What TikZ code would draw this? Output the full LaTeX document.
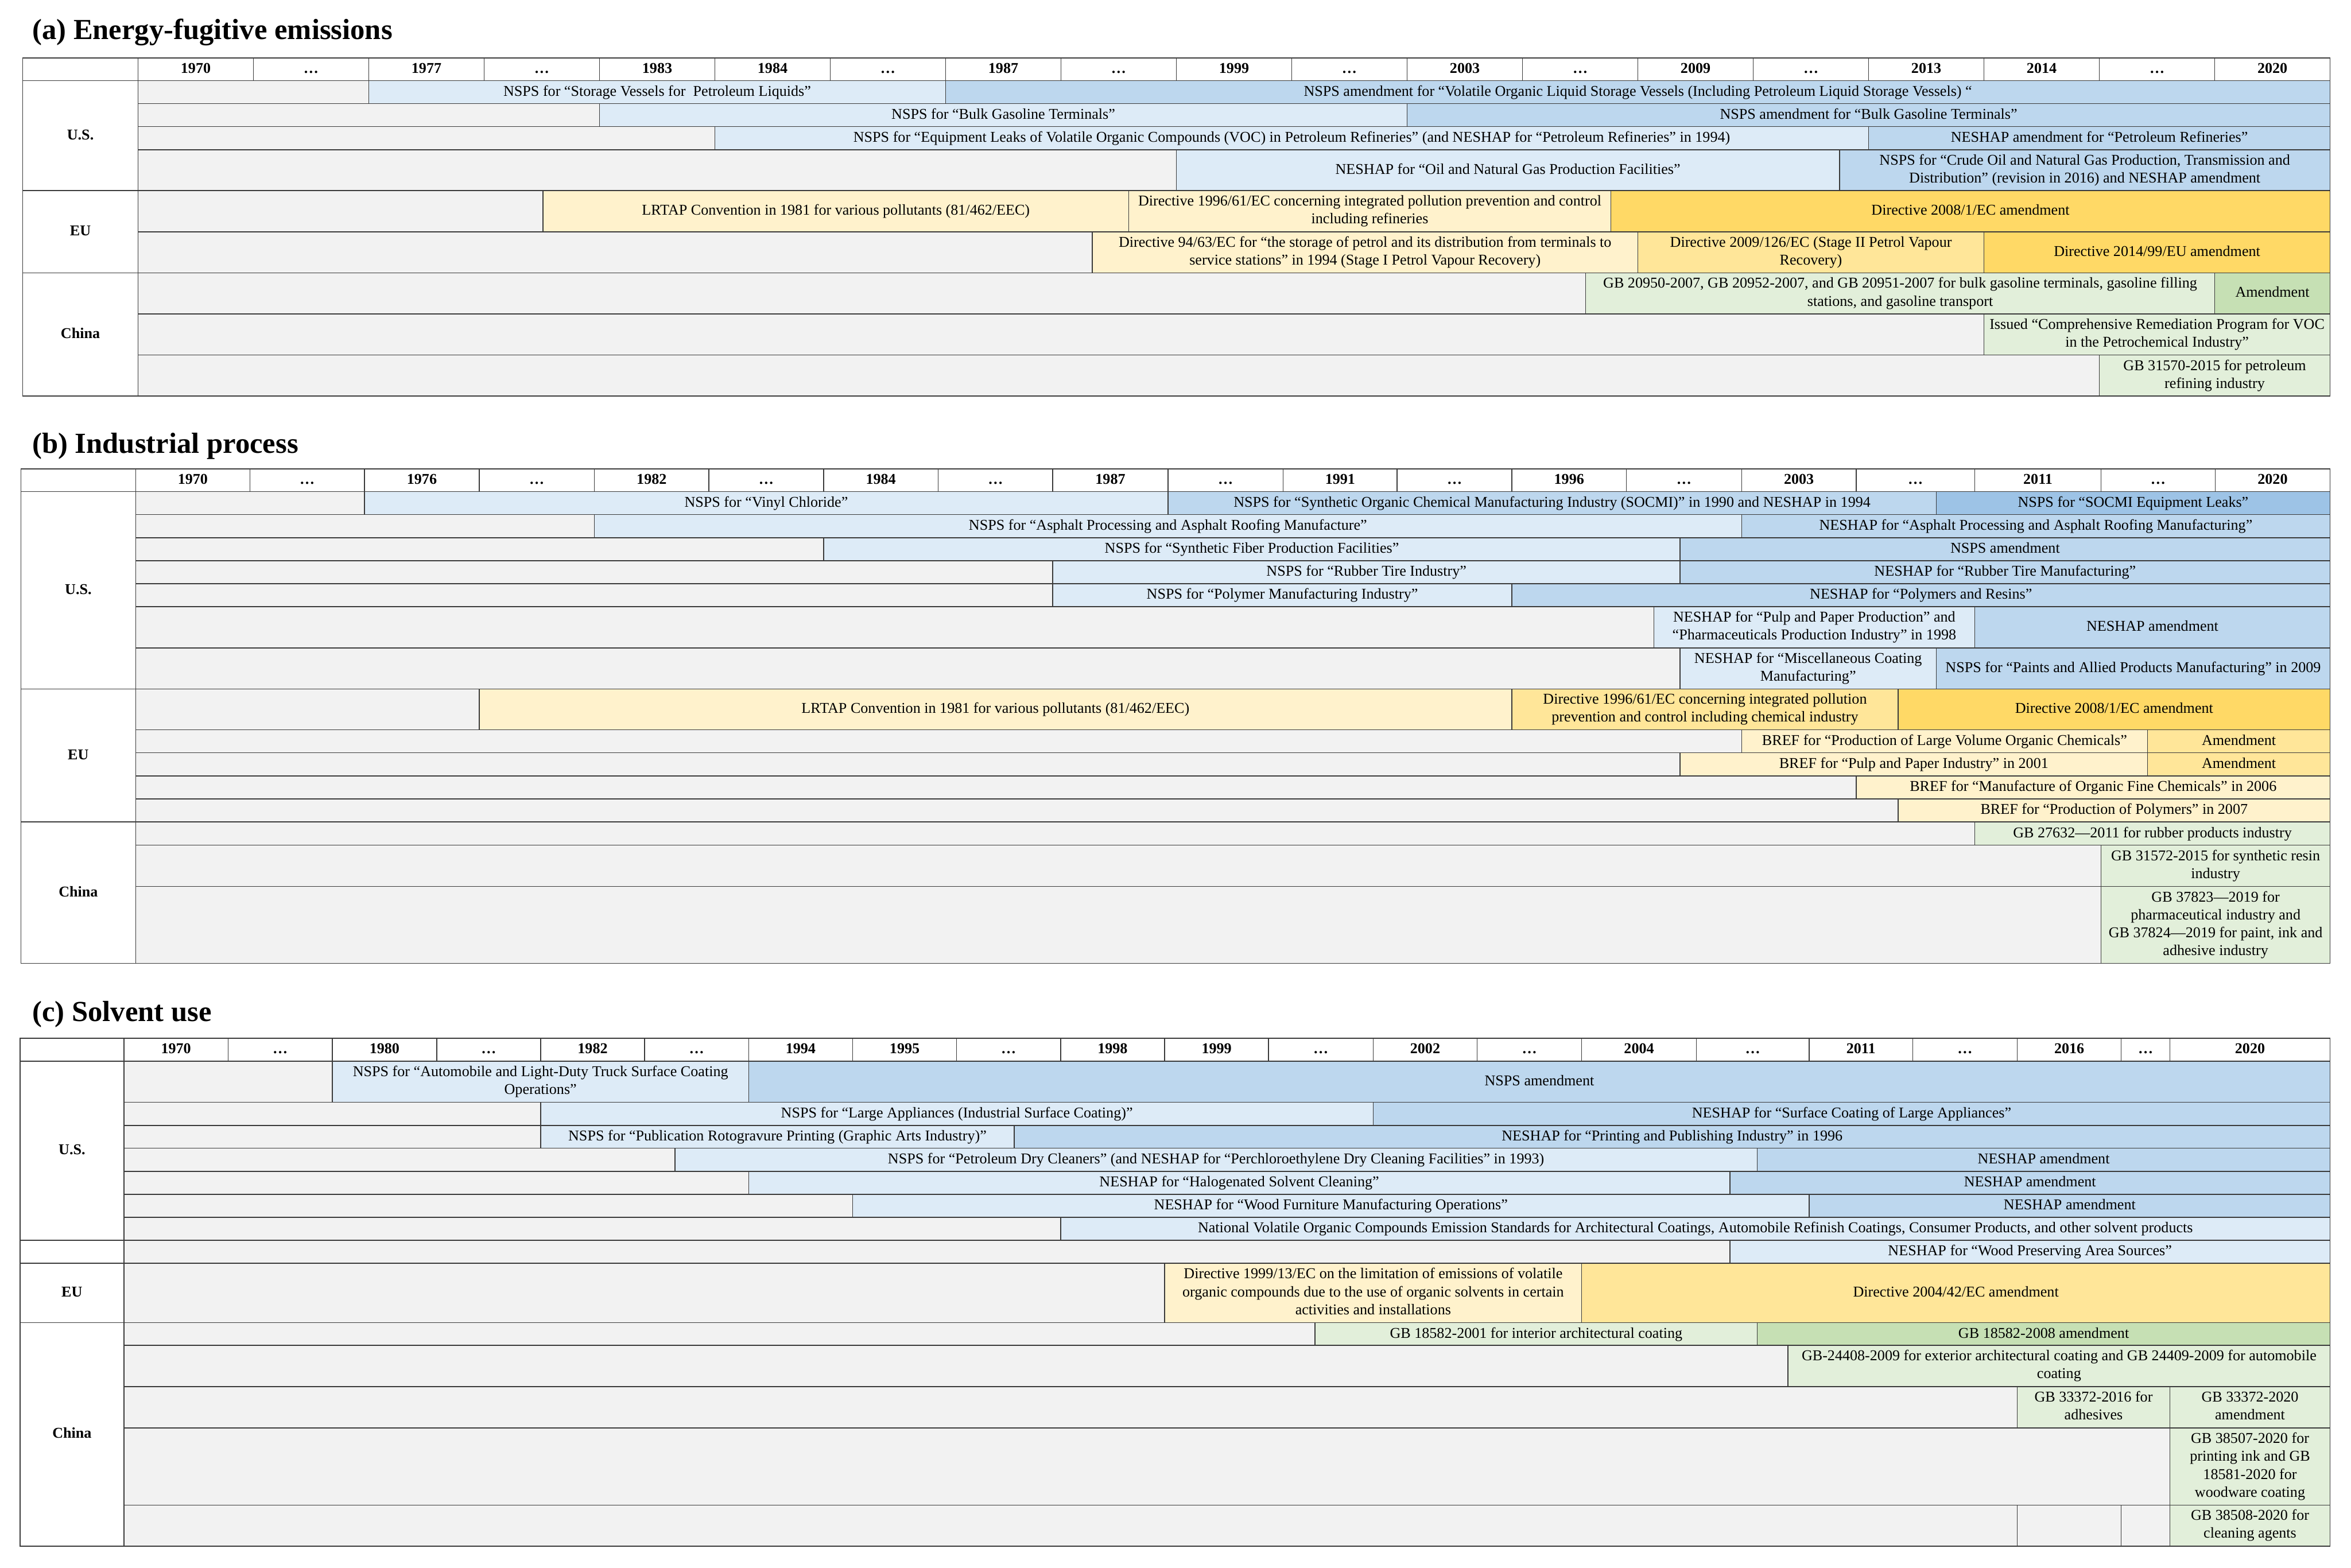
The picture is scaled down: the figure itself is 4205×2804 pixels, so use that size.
\documentclass[tikz,border=0pt]{standalone}
\usepackage{fontspec}
\setmainfont{Liberation Serif}
\definecolor{gry}{HTML}{F2F2F2}
\definecolor{lblue}{HTML}{DDEBF7}
\definecolor{mblue}{HTML}{BDD7EE}
\definecolor{dblue}{HTML}{9DC3E6}
\definecolor{lyel}{HTML}{FFF2CC}
\definecolor{myel}{HTML}{FFE699}
\definecolor{gold}{HTML}{FFD966}
\definecolor{lgrn}{HTML}{E2EFDA}
\definecolor{mgrn}{HTML}{C6E0B4}
\definecolor{linec}{HTML}{3A3A3A}
\newcommand\mystrut{\rule[-1.5pt]{0pt}{6.5pt}}
\tikzset{
  cellline/.style={draw=linec,line width=0.4pt},
  txt/.style={align=center,inner sep=0pt,font=\fontsize{6.7}{8}\selectfont,
    execute at begin node=\mystrut,execute at end node=\mystrut},
  hdrtxt/.style={txt,font=\fontsize{6.7}{8}\selectfont\bfseries},
  ttl/.style={anchor=base west,inner sep=0pt,font=\fontsize{13}{15}\selectfont\bfseries}
}
\newcounter{cellno}
\newcommand\cellbox[6]{\stepcounter{cellno}%
  \filldraw[cellline,fill=#5] (#1,#3) rectangle (#2,#4);
  \node[txt] (cell\arabic{cellno}) at ({(#1+#2)/2},{(#3+#4)/2}) {#6};}
\newcommand\hdrbox[5]{\stepcounter{cellno}%
  \filldraw[cellline,fill=white] (#1,#3) rectangle (#2,#4);
  \node[hdrtxt] (cell\arabic{cellno}) at ({(#1+#2)/2},{(#3+#4)/2}) {#5};}
\begin{document}
\begin{tikzpicture}[x=0.25pt,y=-0.25pt]
\useasboundingbox[fill=white] (0,0) rectangle (4205,2804);

%%%%%%%%%%%%%%%% (a)
\node[ttl] (ta) at (57,70.7) {(a) Energy-fugitive emissions};
\hdrbox{40.7}{246.9}{103.7}{144.3}{}
\foreach \a/\b/\t in {246.9/453.25/1970,453.25/659.6/…,659.6/865.95/1977,865.95/1072.3/…,1072.3/1278.65/1983,1278.65/1485/1984,1485/1691.35/…,1691.35/1897.7/1987,1897.7/2104.05/…,2104.05/2310.4/1999,2310.4/2516.75/…,2516.75/2723.1/2003,2723.1/2929.45/…,2929.45/3135.8/2009,3135.8/3342.15/…,3342.15/3548.5/2013,3548.5/3754.85/2014,3754.85/3961.2/…,3961.2/4167.6/2020}
  {\hdrbox{\a}{\b}{103.7}{144.3}{\t}}
\hdrbox{40.7}{246.9}{144.3}{341}{U.S.}
\hdrbox{40.7}{246.9}{341}{488}{EU}
\hdrbox{40.7}{246.9}{488}{708.5}{China}
% US
\cellbox{246.9}{659.6}{144.3}{185.3}{gry}{}
\cellbox{659.6}{1691.35}{144.3}{185.3}{lblue}{NSPS for “Storage Vessels for~ Petroleum Liquids”}
\cellbox{1691.35}{4167.6}{144.3}{185.3}{mblue}{NSPS amendment for “Volatile Organic Liquid Storage Vessels (Including Petroleum Liquid Storage Vessels)~“}
\cellbox{246.9}{1072.3}{185.3}{226.3}{gry}{}
\cellbox{1072.3}{2516.75}{185.3}{226.3}{lblue}{NSPS for “Bulk Gasoline Terminals”}
\cellbox{2516.75}{4167.6}{185.3}{226.3}{mblue}{NSPS amendment for “Bulk Gasoline Terminals”}
\cellbox{246.9}{1278.65}{226.3}{267.8}{gry}{}
\cellbox{1278.65}{3342.15}{226.3}{267.8}{lblue}{NSPS for “Equipment Leaks of Volatile Organic Compounds (VOC) in Petroleum Refineries” (and NESHAP for “Petroleum Refineries” in 1994)}
\cellbox{3342.15}{4167.6}{226.3}{267.8}{mblue}{NESHAP amendment for “Petroleum Refineries”}
\cellbox{246.9}{2104.05}{267.8}{341}{gry}{}
\cellbox{2104.05}{3290}{267.8}{341}{lblue}{NESHAP for “Oil and Natural Gas Production Facilities”}
\cellbox{3290}{4167.6}{267.8}{341}{mblue}{NSPS for “Crude Oil and Natural Gas Production, Transmission and\\Distribution” (revision in 2016) and NESHAP amendment}
% EU
\cellbox{246.9}{971}{341}{414.5}{gry}{}
\cellbox{971}{2019}{341}{414.5}{lyel}{LRTAP Convention in 1981 for various pollutants (81/462/EEC)}
\cellbox{2019}{2881}{341}{414.5}{lyel}{Directive 1996/61/EC concerning integrated pollution prevention and control\\including refineries}
\cellbox{2881}{4167.6}{341}{414.5}{gold}{Directive 2008/1/EC amendment}
\cellbox{246.9}{1953.5}{414.5}{488}{gry}{}
\cellbox{1953.5}{2929.45}{414.5}{488}{lyel}{Directive 94/63/EC for “the storage of petrol and its distribution from terminals to\\service stations” in 1994 (Stage I Petrol Vapour Recovery)}
\cellbox{2929.45}{3548.5}{414.5}{488}{myel}{Directive 2009/126/EC (Stage II Petrol Vapour\\Recovery)}
\cellbox{3548.5}{4167.6}{414.5}{488}{gold}{Directive 2014/99/EU amendment}
% China
\cellbox{246.9}{2836}{488}{561.5}{gry}{}
\cellbox{2836}{3961.2}{488}{561.5}{lgrn}{GB 20950-2007, GB 20952-2007, and GB 20951-2007 for bulk gasoline terminals, gasoline filling\\stations, and gasoline transport}
\cellbox{3961.2}{4167.6}{488}{561.5}{mgrn}{Amendment}
\cellbox{246.9}{3548.5}{561.5}{635}{gry}{}
\cellbox{3548.5}{4167.6}{561.5}{635}{lgrn}{Issued “Comprehensive Remediation Program for VOC\\in the Petrochemical Industry”}
\cellbox{246.9}{3754.85}{635}{708.5}{gry}{}
\cellbox{3754.85}{4167.6}{635}{708.5}{lgrn}{GB 31570-2015 for petroleum\\refining industry}

%%%%%%%%%%%%%%%% (b)
\node[ttl] (tb) at (57,810) {(b) Industrial process};
\hdrbox{37.3}{242.7}{838.7}{879.3}{}
\foreach \a/\b/\t in {242.7/447/1970,447/652/…,652/857/1976,857/1063/…,1063/1268/1982,1268/1473/…,1473/1678/1984,1678/1883/…,1883/2089/1987,2089/2295/…,2295/2499/1991,2499/2704/…,2704/2909/1996,2909/3115/…,3115/3320/2003,3320/3532/…,3532/3758/2011,3758/3962/…,3962/4167.6/2020}
  {\hdrbox{\a}{\b}{838.7}{879.3}{\t}}
\hdrbox{37.3}{242.7}{879.3}{1232.4}{U.S.}
\hdrbox{37.3}{242.7}{1232.4}{1470.3}{EU}
\hdrbox{37.3}{242.7}{1470.3}{1723}{China}
% US
\cellbox{242.7}{652}{879.3}{920.5}{gry}{}
\cellbox{652}{2089}{879.3}{920.5}{lblue}{NSPS for “Vinyl Chloride”}
\cellbox{2089}{3463}{879.3}{920.5}{mblue}{NSPS for “Synthetic Organic Chemical Manufacturing Industry (SOCMI)” in 1990 and NESHAP in 1994}
\cellbox{3463}{4167.6}{879.3}{920.5}{dblue}{NSPS for “SOCMI Equipment Leaks”}
\cellbox{242.7}{1063}{920.5}{962}{gry}{}
\cellbox{1063}{3115}{920.5}{962}{lblue}{NSPS for “Asphalt Processing and Asphalt Roofing Manufacture”}
\cellbox{3115}{4167.6}{920.5}{962}{mblue}{NESHAP for “Asphalt Processing and Asphalt Roofing Manufacturing”}
\cellbox{242.7}{1473}{962}{1003}{gry}{}
\cellbox{1473}{3005}{962}{1003}{lblue}{NSPS for “Synthetic Fiber Production Facilities”}
\cellbox{3005}{4167.6}{962}{1003}{mblue}{NSPS amendment}
\cellbox{242.7}{1883}{1003}{1044}{gry}{}
\cellbox{1883}{3005}{1003}{1044}{lblue}{NSPS for “Rubber Tire Industry”}
\cellbox{3005}{4167.6}{1003}{1044}{mblue}{NESHAP for “Rubber Tire Manufacturing”}
\cellbox{242.7}{1883}{1044}{1085}{gry}{}
\cellbox{1883}{2704}{1044}{1085}{lblue}{NSPS for “Polymer Manufacturing Industry”}
\cellbox{2704}{4167.6}{1044}{1085}{mblue}{NESHAP for “Polymers and Resins”}
\cellbox{242.7}{2958}{1085}{1159}{gry}{}
\cellbox{2958}{3532}{1085}{1159}{lblue}{NESHAP for “Pulp and Paper Production” and\\“Pharmaceuticals Production Industry” in 1998}
\cellbox{3532}{4167.6}{1085}{1159}{mblue}{NESHAP amendment}
\cellbox{242.7}{3005}{1159}{1232.4}{gry}{}
\cellbox{3005}{3463}{1159}{1232.4}{lblue}{NESHAP for “Miscellaneous Coating\\Manufacturing”}
\cellbox{3463}{4167.6}{1159}{1232.4}{mblue}{NSPS for “Paints and Allied Products Manufacturing” in 2009}
% EU
\cellbox{242.7}{857}{1232.4}{1305.5}{gry}{}
\cellbox{857}{2704}{1232.4}{1305.5}{lyel}{LRTAP Convention in 1981 for various pollutants (81/462/EEC)}
\cellbox{2704}{3395}{1232.4}{1305.5}{myel}{Directive 1996/61/EC concerning integrated pollution\\prevention and control including chemical industry}
\cellbox{3395}{4167.6}{1232.4}{1305.5}{gold}{Directive 2008/1/EC amendment}
\cellbox{242.7}{3115}{1305.5}{1346.6}{gry}{}
\cellbox{3115}{3841}{1305.5}{1346.6}{lyel}{BREF for “Production of Large Volume Organic Chemicals”}
\cellbox{3841}{4167.6}{1305.5}{1346.6}{myel}{Amendment}
\cellbox{242.7}{3005}{1346.6}{1388.2}{gry}{}
\cellbox{3005}{3841}{1346.6}{1388.2}{lyel}{BREF for “Pulp and Paper Industry” in 2001}
\cellbox{3841}{4167.6}{1346.6}{1388.2}{myel}{Amendment}
\cellbox{242.7}{3320}{1388.2}{1429}{gry}{}
\cellbox{3320}{4167.6}{1388.2}{1429}{lyel}{BREF for “Manufacture of Organic Fine Chemicals” in 2006}
\cellbox{242.7}{3395}{1429}{1470.3}{gry}{}
\cellbox{3395}{4167.6}{1429}{1470.3}{lyel}{BREF for “Production of Polymers” in 2007}
% China
\cellbox{242.7}{3532}{1470.3}{1511.7}{gry}{}
\cellbox{3532}{4167.6}{1470.3}{1511.7}{lgrn}{GB 27632—2011 for rubber products industry}
\cellbox{242.7}{3758}{1511.7}{1585.7}{gry}{}
\cellbox{3758}{4167.6}{1511.7}{1585.7}{lgrn}{GB 31572-2015 for synthetic resin\\industry}
\cellbox{242.7}{3758}{1585.7}{1723}{gry}{}
\cellbox{3758}{4167.6}{1585.7}{1723}{lgrn}{GB 37823—2019 for\\pharmaceutical industry and\\GB 37824—2019 for paint, ink and\\adhesive industry}

%%%%%%%%%%%%%%%% (c)
\node[ttl] (tc) at (57,1826.7) {(c) Solvent use};
\hdrbox{35.7}{221.7}{1857}{1898}{}
\foreach \a/\b/\t in {221.7/408/1970,408/594.5/…,594.5/781/1980,781/967/…,967/1153/1982,1153/1339/…,1339/1525/1994,1525/1711/1995,1711/1897/…,1897/2083/1998,2083/2269/1999,2269/2456/…,2456/2642/2002,2642/2829/…,2829/3034/2004,3034/3236/…,3236/3421/2011,3421/3608/…,3608/3794/2016,3794/3881/…,3881/4167.6/2020}
  {\hdrbox{\a}{\b}{1857}{1898}{\t}}
\hdrbox{35.7}{221.7}{1898}{2218.7}{U.S.}
\hdrbox{35.7}{221.7}{2218.7}{2259.4}{}
\hdrbox{35.7}{221.7}{2259.4}{2365.9}{EU}
\hdrbox{35.7}{221.7}{2365.9}{2765.4}{China}
% US
\cellbox{221.7}{594.5}{1898}{1971.7}{gry}{}
\cellbox{594.5}{1339}{1898}{1971.7}{lblue}{NSPS for “Automobile and Light-Duty Truck Surface Coating\\Operations”}
\cellbox{1339}{4167.6}{1898}{1971.7}{mblue}{NSPS amendment}
\cellbox{221.7}{967}{1971.7}{2013}{gry}{}
\cellbox{967}{2456}{1971.7}{2013}{lblue}{NSPS for “Large Appliances (Industrial Surface Coating)”}
\cellbox{2456}{4167.6}{1971.7}{2013}{mblue}{NESHAP for “Surface Coating of Large Appliances”}
\cellbox{221.7}{967}{2013}{2053.6}{gry}{}
\cellbox{967}{1814}{2013}{2053.6}{lblue}{NSPS for “Publication Rotogravure Printing (Graphic Arts Industry)”}
\cellbox{1814}{4167.6}{2013}{2053.6}{mblue}{NESHAP for “Printing and Publishing Industry” in 1996}
\cellbox{221.7}{1207}{2053.6}{2095}{gry}{}
\cellbox{1207}{3143}{2053.6}{2095}{lblue}{NSPS for “Petroleum Dry Cleaners” (and NESHAP for “Perchloroethylene Dry Cleaning Facilities” in 1993)}
\cellbox{3143}{4167.6}{2053.6}{2095}{mblue}{NESHAP amendment}
\cellbox{221.7}{1339}{2095}{2136.2}{gry}{}
\cellbox{1339}{3094}{2095}{2136.2}{lblue}{NESHAP for “Halogenated Solvent Cleaning”}
\cellbox{3094}{4167.6}{2095}{2136.2}{mblue}{NESHAP amendment}
\cellbox{221.7}{1525}{2136.2}{2177.5}{gry}{}
\cellbox{1525}{3236}{2136.2}{2177.5}{lblue}{NESHAP for “Wood Furniture Manufacturing Operations”}
\cellbox{3236}{4167.6}{2136.2}{2177.5}{mblue}{NESHAP amendment}
\cellbox{221.7}{1897}{2177.5}{2218.7}{gry}{}
\cellbox{1897}{4167.6}{2177.5}{2218.7}{lblue}{National Volatile Organic Compounds Emission Standards for Architectural Coatings, Automobile Refinish Coatings, Consumer Products, and other solvent products}
\cellbox{221.7}{3094}{2218.7}{2259.4}{gry}{}
\cellbox{3094}{4167.6}{2218.7}{2259.4}{lblue}{NESHAP for “Wood Preserving Area Sources”}
% EU
\cellbox{221.7}{2083}{2259.4}{2365.9}{gry}{}
\cellbox{2083}{2829}{2259.4}{2365.9}{lyel}{Directive 1999/13/EC on the limitation of emissions of volatile\\organic compounds due to the use of organic solvents in certain\\activities and installations}
\cellbox{2829}{4167.6}{2259.4}{2365.9}{myel}{Directive 2004/42/EC amendment}
% China
\cellbox{221.7}{2352}{2365.9}{2406.5}{gry}{}
\cellbox{2352}{3143}{2365.9}{2406.5}{lgrn}{GB 18582-2001 for interior architectural coating}
\cellbox{3143}{4167.6}{2365.9}{2406.5}{mgrn}{GB 18582-2008 amendment}
\cellbox{221.7}{3198}{2406.5}{2480.4}{gry}{}
\cellbox{3198}{4167.6}{2406.5}{2480.4}{lgrn}{GB-24408-2009 for exterior architectural coating and GB 24409-2009 for automobile\\coating}
\cellbox{221.7}{3608}{2480.4}{2554.3}{gry}{}
\cellbox{3608}{3881}{2480.4}{2554.3}{lgrn}{GB 33372-2016 for\\adhesives}
\cellbox{3881}{4167.6}{2480.4}{2554.3}{lgrn}{GB 33372-2020\\amendment}
\cellbox{221.7}{3881}{2554.3}{2692.1}{gry}{}
\cellbox{3881}{4167.6}{2554.3}{2692.1}{lgrn}{GB 38507-2020 for\\printing ink and GB\\18581-2020 for\\woodware coating}
\cellbox{221.7}{3608}{2692.1}{2765.4}{gry}{}
\cellbox{3608}{3794}{2692.1}{2765.4}{gry}{}
\cellbox{3794}{3881}{2692.1}{2765.4}{gry}{}
\cellbox{3881}{4167.6}{2692.1}{2765.4}{lgrn}{GB 38508-2020 for\\cleaning agents}
\end{tikzpicture}
\end{document}
